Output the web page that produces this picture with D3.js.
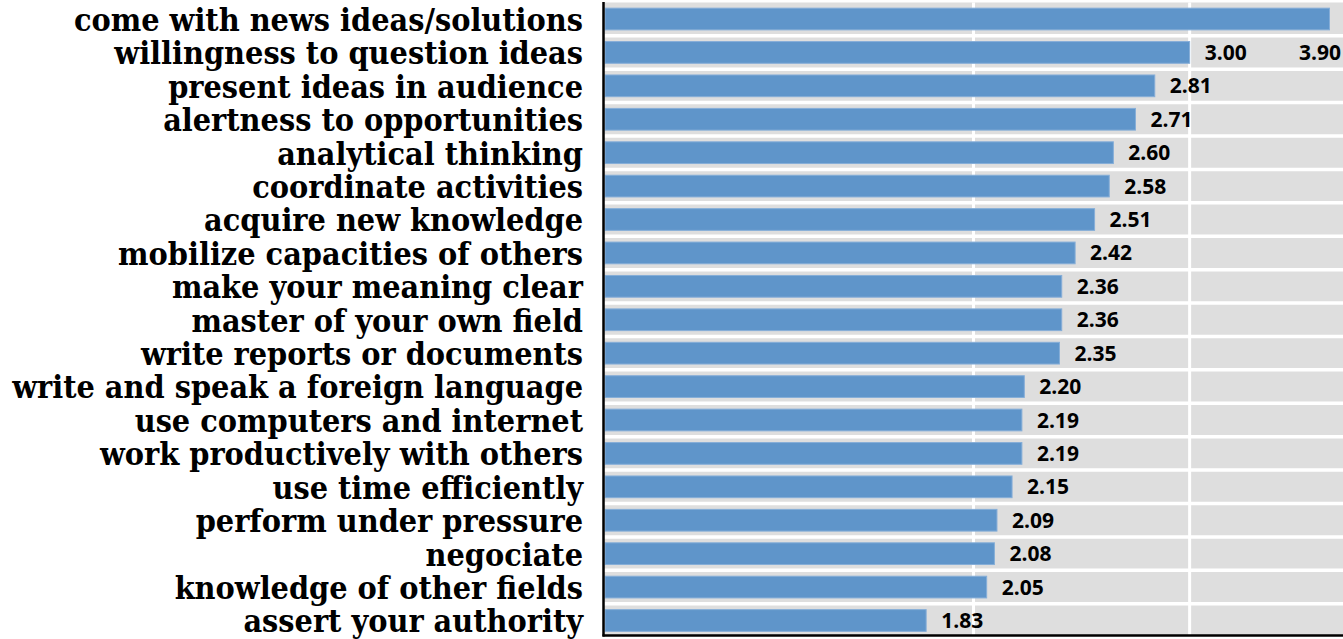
<!DOCTYPE html>
<html>
<head>
<meta charset="utf-8">
<script src="https://cdn.jsdelivr.net/npm/d3@7"></script>
<style>
  html, body { margin: 0; padding: 0; background: #ffffff; }
  svg { display: block; }
</style>
</head>
<body>
<svg id="chart" width="1343" height="639"></svg>
<script>
const categories = [
  "come with news ideas/solutions",
  "willingness to question ideas",
  "present ideas in audience",
  "alertness to opportunities",
  "analytical thinking",
  "coordinate activities",
  "acquire new knowledge",
  "mobilize capacities of others",
  "make your meaning clear",
  "master of your own field",
  "write reports or documents",
  "write and speak a foreign language",
  "use computers and internet",
  "work productively with others",
  "use time efficiently",
  "perform under pressure",
  "negociate",
  "knowledge of other fields",
  "assert your authority"
];
const values = [3.90, 3.00, 2.81, 2.71, 2.60, 2.58, 2.51, 2.42, 2.36, 2.36, 2.35, 2.20, 2.19, 2.19, 2.15, 2.09, 2.08, 2.05, 1.83];
const valueLabels = ["3.90", "3.00", "2.81", "2.71", "2.60", "2.58", "2.51", "2.42", "2.36", "2.36", "2.35", "2.20", "2.19", "2.19", "2.15", "2.09", "2.08", "2.05", "1.83"];
const xDomain = [1, 4];
const gridTicks = [2, 3];

const data = categories.map((c, i) => ({ cat: c, value: values[i], label: valueLabels[i], i }));

const svg = d3.select("#chart");
const plotLeft = 604, plotRight = 1343, plotTop = 2.5, plotBottom = 635;

const x = d3.scaleLog().domain(xDomain).range([plotLeft, plotRight]);
const y = d3.scaleBand().domain(categories).range([2.3, 637.2]).paddingInner(0.35).paddingOuter(0.175);

// plot background
svg.append("rect")
  .attr("x", plotLeft).attr("y", plotTop)
  .attr("width", plotRight - plotLeft).attr("height", plotBottom - plotTop)
  .attr("fill", "#dedede");

// horizontal white separators at band boundaries
svg.append("g").selectAll("line")
  .data(categories.slice(1))
  .join("line")
  .attr("x1", plotLeft).attr("x2", plotRight)
  .attr("y1", d => y(d) - y.step() * y.paddingInner() / 2)
  .attr("y2", d => y(d) - y.step() * y.paddingInner() / 2)
  .attr("stroke", "#ffffff").attr("stroke-width", 3.5);

// vertical gridlines
svg.append("g").selectAll("line")
  .data(gridTicks)
  .join("line")
  .attr("x1", d => x(d)).attr("x2", d => x(d))
  .attr("y1", plotTop).attr("y2", plotBottom)
  .attr("stroke", "#ffffff").attr("stroke-width", 3);

// bars
svg.append("g").selectAll("rect")
  .data(data)
  .join("rect")
  .attr("x", x(xDomain[0]) + 1)
  .attr("y", d => y(d.cat))
  .attr("width", d => x(d.value) - x(xDomain[0]) - 1)
  .attr("height", y.bandwidth())
  .attr("fill", "#5f95ca")
  .attr("stroke", "#86aed8")
  .attr("stroke-width", 1);

// value labels
svg.append("g").selectAll("text")
  .data(data)
  .join("text")
  .attr("x", d => d.i === 0 ? x(xDomain[1]) - 2 : x(d.value) + 15)
  .attr("y", d => d.i === 0 ? y(categories[1]) + y.bandwidth() / 2 : y(d.cat) + y.bandwidth() / 2)
  .attr("dy", "0.36em")
  .attr("text-anchor", d => d.i === 0 ? "end" : "start")
  .attr("font-family", "'Open Sans', sans-serif")
  .attr("font-weight", 700)
  .attr("font-size", 21)
  .attr("fill", "#000")
  .text(d => d.label);

// category labels (axis)
const yAxis = d3.axisLeft(y).tickSize(0).tickPadding(21);
const gAxis = svg.append("g").attr("transform", `translate(${plotLeft},0)`).call(yAxis);
gAxis.select(".domain").remove();
gAxis.selectAll("text")
  .attr("font-family", "'DejaVu Serif Condensed', 'DejaVu Serif', serif")
  .style("font-stretch", "condensed")
  .attr("font-weight", 700)
  .attr("font-size", 100)
  .attr("fill", "#000");
// fit font size so longest label spans the measured width
let maxW = 0;
gAxis.selectAll("text").each(function() { maxW = Math.max(maxW, this.getComputedTextLength()); });
const fs = 100 * 571 / maxW;
gAxis.selectAll("text").attr("font-size", fs).attr("dy", "0.37em");

// axis lines
svg.append("line")
  .attr("x1", plotLeft - 0.5).attr("x2", plotLeft - 0.5)
  .attr("y1", 2).attr("y2", 636.5)
  .attr("stroke", "#000").attr("stroke-width", 2.5);
svg.append("line")
  .attr("x1", plotLeft - 1.5).attr("x2", plotRight)
  .attr("y1", 635.5).attr("y2", 635.5)
  .attr("stroke", "#000").attr("stroke-width", 2.5);
</script>
</body>
</html>
